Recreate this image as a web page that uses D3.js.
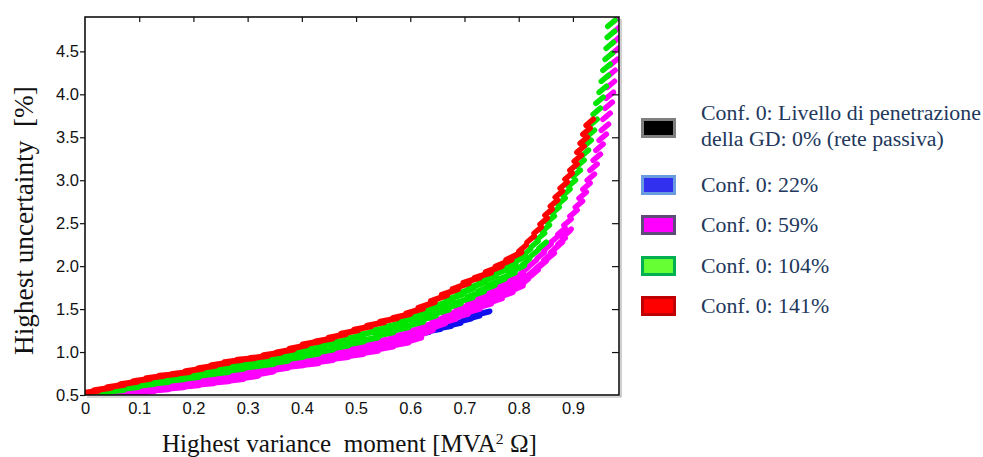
<!DOCTYPE html>
<html>
<head>
<meta charset="utf-8">
<script src="https://cdn.jsdelivr.net/npm/d3@7"></script>
<style>
  html, body { margin: 0; padding: 0; background: #fff; }
  svg { display: block; }
  .title { white-space: pre; }
</style>
</head>
<body>
<svg id="chart" width="983" height="457"></svg>
<script>
// ---- axis ticks ----
const xTicks = [0, 0.1, 0.2, 0.3, 0.4, 0.5, 0.6, 0.7, 0.8, 0.9];
const xTickLabels = ["0", "0.1", "0.2", "0.3", "0.4", "0.5", "0.6", "0.7", "0.8", "0.9"];
const yTicks = [0.5, 1.0, 1.5, 2.0, 2.5, 3.0, 3.5, 4.0, 4.5];
const yTickLabels = ["0.5", "1.0", "1.5", "2.0", "2.5", "3.0", "3.5", "4.0", "4.5"];

// ---- legend ----
const legendLabels = [
  ["Conf. 0: Livello di penetrazione", "della GD: 0% (rete passiva)"],
  ["Conf. 0: 22%"],
  ["Conf. 0: 59%"],
  ["Conf. 0: 104%"],
  ["Conf. 0: 141%"]
];

// ---- series: each is a set of tracks of [moment, uncertainty] points ----
const conf0Passive = [
  [[0.002,0.500],[0.028,0.523],[0.055,0.547],[0.083,0.570],[0.111,0.593],[0.138,0.616],[0.166,0.640],
   [0.194,0.663],[0.221,0.686],[0.249,0.709],[0.276,0.733],[0.304,0.767],[0.332,0.802],[0.359,0.837],
   [0.387,0.872],[0.415,0.907],[0.442,0.942],[0.470,0.977],[0.498,1.023],[0.525,1.070],[0.553,1.116],[0.581,1.163]]
];

const conf0p22 = [
  [[0.002,0.512],[0.024,0.523],[0.046,0.547],[0.068,0.570],[0.090,0.593],[0.112,0.605],[0.135,0.628],
   [0.157,0.651],[0.179,0.674],[0.201,0.698],[0.223,0.721],[0.245,0.744],[0.267,0.767],[0.289,0.791],
   [0.312,0.826],[0.334,0.849],[0.356,0.884],[0.378,0.907],[0.400,0.942],[0.422,0.965],[0.444,0.988],
   [0.466,1.012],[0.488,1.035],[0.511,1.058],[0.533,1.081],[0.555,1.105],[0.577,1.140],[0.599,1.174],
   [0.619,1.209],[0.640,1.244],[0.660,1.279],[0.678,1.314],[0.697,1.360],[0.713,1.395],[0.730,1.442],[0.747,1.477]]
];

const conf0p59 = [
  // lower edge
  [[0.083,0.512],[0.111,0.535],[0.138,0.558],[0.166,0.581],[0.194,0.605],[0.221,0.628],[0.249,0.651],
   [0.276,0.674],[0.304,0.709],[0.332,0.756],[0.359,0.802],[0.387,0.837],[0.415,0.860],[0.442,0.895],
   [0.470,0.930],[0.498,0.965],[0.525,1.000],[0.553,1.047],[0.581,1.093],[0.605,1.140],[0.627,1.221],
   [0.649,1.302],[0.669,1.360],[0.691,1.419],[0.713,1.477],[0.734,1.535],[0.754,1.593],[0.774,1.663],
   [0.793,1.733],[0.811,1.814],[0.829,1.919],[0.844,2.023],[0.859,2.116],[0.874,2.244],[0.887,2.372]],
  // middle
  [[0.046,0.512],[0.074,0.535],[0.101,0.558],[0.129,0.581],[0.157,0.605],[0.184,0.628],[0.212,0.651],
   [0.240,0.674],[0.267,0.698],[0.295,0.733],[0.323,0.767],[0.350,0.802],[0.378,0.837],[0.406,0.872],
   [0.433,0.907],[0.461,0.953],[0.488,0.988],[0.516,1.035],[0.544,1.081],[0.571,1.140],[0.599,1.186],
   [0.623,1.244],[0.647,1.314],[0.669,1.372],[0.691,1.442],[0.713,1.512],[0.734,1.570],[0.754,1.640],
   [0.772,1.709],[0.791,1.779],[0.807,1.849],[0.824,1.930],[0.839,2.012],[0.853,2.105],[0.866,2.198],
   [0.879,2.291],[0.890,2.395]],
  // upper
  [[0.028,0.512],[0.055,0.535],[0.083,0.558],[0.111,0.581],[0.138,0.605],[0.166,0.640],[0.194,0.663],
   [0.221,0.686],[0.249,0.721],[0.276,0.744],[0.304,0.779],[0.332,0.814],[0.359,0.849],[0.387,0.884],
   [0.415,0.919],[0.442,0.953],[0.470,1.000],[0.498,1.047],[0.525,1.093],[0.553,1.140],[0.581,1.198],
   [0.608,1.256],[0.632,1.314],[0.656,1.384],[0.678,1.453],[0.700,1.523],[0.721,1.593],[0.741,1.663],
   [0.759,1.733],[0.778,1.802],[0.794,1.872],[0.811,1.953],[0.826,2.035],[0.841,2.128],[0.853,2.221],
   [0.866,2.314],[0.879,2.407],[0.890,2.512],[0.901,2.616],[0.911,2.721],[0.918,2.826],[0.925,2.930],
   [0.933,3.035],[0.938,3.151],[0.944,3.267],[0.949,3.384],[0.955,3.500],[0.959,3.616],[0.962,3.744],
   [0.966,3.872],[0.968,3.988],[0.970,4.116],[0.971,4.244],[0.975,4.372],[0.977,4.500],[0.979,4.628],
   [0.981,4.756],[0.982,4.884]]
];

const conf0p104 = [
  [[0.028,0.523],[0.055,0.547],[0.083,0.581],[0.111,0.616],[0.138,0.640],[0.166,0.674],[0.194,0.698],
   [0.221,0.733],[0.249,0.756],[0.276,0.791],[0.304,0.826],[0.332,0.849],[0.359,0.884],[0.387,0.930],
   [0.415,0.965],[0.442,1.012],[0.470,1.058],[0.498,1.105],[0.525,1.151],[0.553,1.209],[0.581,1.267],
   [0.608,1.326],[0.632,1.395],[0.656,1.465],[0.678,1.535],[0.700,1.605],[0.721,1.674],[0.741,1.744],
   [0.759,1.814],[0.778,1.884],[0.796,1.965],[0.813,2.047],[0.829,2.151],[0.844,2.244]],
  [[0.018,0.535],[0.042,0.570],[0.066,0.593],[0.090,0.628],[0.114,0.663],[0.138,0.686],[0.162,0.709],
   [0.186,0.733],[0.210,0.767],[0.234,0.791],[0.258,0.826],[0.282,0.849],[0.306,0.884],[0.330,0.907],
   [0.354,0.942],[0.378,0.977],[0.402,1.012],[0.426,1.047],[0.450,1.093],[0.474,1.128],[0.498,1.174],
   [0.522,1.221],[0.546,1.267],[0.570,1.314],[0.594,1.372],[0.618,1.430],[0.640,1.500],[0.662,1.570],
   [0.682,1.640],[0.702,1.709],[0.723,1.779],[0.743,1.849],[0.761,1.919],[0.780,1.988],[0.798,2.070],
   [0.815,2.163],[0.829,2.256],[0.841,2.349],[0.850,2.442],[0.859,2.547],[0.868,2.651],[0.879,2.756],
   [0.888,2.860],[0.898,2.965],[0.907,3.081],[0.914,3.198],[0.922,3.314],[0.927,3.430],[0.933,3.547],
   [0.938,3.674],[0.944,3.802],[0.949,3.930],[0.955,4.058],[0.959,4.186],[0.962,4.314],[0.966,4.442],
   [0.968,4.570],[0.970,4.698],[0.971,4.826]]
];

const conf0p141 = [
  [[0.009,0.535],[0.033,0.570],[0.057,0.605],[0.081,0.640],[0.105,0.674],[0.129,0.709],[0.153,0.733],
   [0.177,0.756],[0.201,0.791],[0.225,0.826],[0.249,0.860],[0.273,0.895],[0.297,0.919],[0.321,0.942],
   [0.345,0.977],[0.369,1.012],[0.393,1.058],[0.417,1.105],[0.441,1.140],[0.465,1.186],[0.488,1.233],
   [0.512,1.279],[0.536,1.326],[0.560,1.372],[0.584,1.419],[0.608,1.477],[0.630,1.547],[0.653,1.628],
   [0.673,1.698],[0.693,1.767],[0.713,1.837],[0.734,1.895],[0.754,1.965],[0.772,2.035],[0.791,2.116],
   [0.807,2.209],[0.822,2.314],[0.835,2.419],[0.846,2.523],[0.855,2.628],[0.865,2.733],[0.874,2.837],
   [0.883,2.942],[0.892,3.047],[0.901,3.151],[0.909,3.256],[0.914,3.360],[0.920,3.465],[0.925,3.570],
   [0.931,3.674]]
];

// ---- layout ----
const plot = { left: 85, right: 619, top: 17, bottom: 395 };

const x = d3.scaleLinear().domain([0, 0.985]).range([plot.left, plot.right]);
const y = d3.scaleLinear().domain([0.5, 4.9]).range([plot.bottom, plot.top]);

const svg = d3.select("#chart");

svg.append("defs").append("clipPath").attr("id", "plotClip")
  .append("rect")
  .attr("x", plot.left).attr("y", plot.top)
  .attr("width", plot.right - plot.left).attr("height", plot.bottom - plot.top);

// ---- data marks: short slanted strokes, one per point ----
const series = [
  { tracks: conf0Passive, color: "#000000", width: 4 },
  { tracks: conf0p22,     color: "#1010ee", width: 5 },
  { tracks: conf0p59,     color: "#ff00ff", width: 6 },
  { tracks: conf0p104,    color: "#00e600", width: 6 },
  { tracks: conf0p141,    color: "#ff0000", width: 6 }
];

function strokeSegments(tracks) {
  const segs = [];
  tracks.forEach(track => {
    const pts = track.map(d => [x(d[0]), y(d[1])]);
    const last = pts.length - 1;
    pts.forEach((p, i) => {
      const a = pts[Math.max(0, i - 1)], b = pts[Math.min(last, i + 1)];
      const dx = b[0] - a[0], dy = a[1] - b[1];
      const s = dx > 0 ? dy / dx : 1;
      const steep = s > 0.8;
      // strokes lean a little flatter than the curve, giving the stepped texture
      const tilt = steep ? 0.85 : Math.max(s * 0.65, 0.03);
      const ang = Math.atan(tilt);
      const half = steep ? 4.8 : 8.5;
      const cx = Math.cos(ang) * half, cy = Math.sin(ang) * half;
      // the final stroke of a track stops at its last point
      const shift = (i === last && !steep) ? 1 : 0;
      const px = p[0] - cx * shift, py = p[1] + cy * shift;
      segs.push({ x1: px - cx, y1: py + cy, x2: px + cx, y2: py - cy, steep });
    });
  });
  return segs;
}

const marks = svg.append("g").attr("clip-path", "url(#plotClip)");
series.forEach(s => {
  marks.append("g")
    .attr("stroke", s.color)
    .attr("stroke-linecap", "round")
    .selectAll("line")
    .data(strokeSegments(s.tracks))
    .join("line")
    .attr("stroke-width", d => d.steep ? Math.min(s.width, 5.5) : s.width)
    .attr("x1", d => d.x1).attr("y1", d => d.y1)
    .attr("x2", d => d.x2).attr("y2", d => d.y2);
});

// ---- frame with a light shadow on the right and bottom ----
svg.append("path")
  .attr("d", `M${plot.right + 2},${plot.top + 2}V${plot.bottom + 2}H${plot.left + 2}`)
  .attr("fill", "none").attr("stroke", "#b0b0b0").attr("stroke-width", 1.2);
svg.append("rect")
  .attr("x", plot.left).attr("y", plot.top)
  .attr("width", plot.right - plot.left).attr("height", plot.bottom - plot.top)
  .attr("fill", "none").attr("stroke", "#111").attr("stroke-width", 1.6);

// ---- axes ----
const tickFont = "'Liberation Sans', Arial, sans-serif";

const yAxis = svg.append("g")
  .attr("transform", `translate(${plot.left},0)`)
  .call(d3.axisLeft(y).tickValues(yTicks).tickSize(5).tickPadding(1)
        .tickFormat((d, i) => yTickLabels[i]));
yAxis.select(".domain").remove();
yAxis.selectAll("line").attr("stroke", "#111").attr("stroke-width", 1.2);
yAxis.selectAll("text").attr("fill", "#111").style("font-family", tickFont).style("font-size", "16.5px");

const xAxis = svg.append("g")
  .attr("transform", `translate(0,${plot.bottom})`)
  .call(d3.axisBottom(x).tickValues(xTicks).tickSize(0).tickPadding(7)
        .tickFormat((d, i) => xTickLabels[i]));
xAxis.select(".domain").remove();
xAxis.selectAll("text").attr("fill", "#111").style("font-family", tickFont).style("font-size", "16.5px");

const topAxis = svg.append("g")
  .attr("transform", `translate(0,${plot.top})`)
  .call(d3.axisTop(x).tickValues(xTicks.slice(1)).tickSize(-5).tickFormat(""));
topAxis.select(".domain").remove();
topAxis.selectAll("line").attr("stroke", "#111").attr("stroke-width", 1.2);

const rightAxis = svg.append("g")
  .attr("transform", `translate(${plot.right},0)`)
  .call(d3.axisRight(y).tickValues(yTicks.slice(1)).tickSize(-7).tickFormat(""));
rightAxis.select(".domain").remove();
rightAxis.selectAll("line").attr("stroke", "#111").attr("stroke-width", 1.2);

// ---- axis titles ----
const serif = "'Liberation Serif', 'Times New Roman', serif";

function fitWidth(sel, target) {
  const base = parseFloat(sel.style("font-size"));
  const w = sel.node().getComputedTextLength();
  sel.style("font-size", (base * target / w) + "px");
}

const xTitle = svg.append("text")
  .attr("class", "title")
  .attr("x", 162).attr("y", 452)
  .attr("fill", "#111")
  .style("font-family", serif).style("font-size", "24px");
xTitle.append("tspan").text("Highest variance  moment [MVA");
xTitle.append("tspan").attr("dy", -8).style("font-size", "0.62em").text("2");
xTitle.append("tspan").attr("dy", 8).text(" Ω]");
fitWidth(xTitle, 375);

const yTitle = svg.append("text")
  .attr("class", "title")
  .attr("transform", `translate(33,355) rotate(-90)`)
  .attr("fill", "#111")
  .style("font-family", serif).style("font-size", "24px")
  .text("Highest uncertainty  [%]");
fitWidth(yTitle, 269);

// ---- legend ----
const swatches = [
  { fill: "#000000", stroke: "#7f7f7f" },
  { fill: "#3030ee", stroke: "#6a9ae0" },
  { fill: "#ff00ff", stroke: "#604a7b" },
  { fill: "#66ff33", stroke: "#00b050" },
  { fill: "#ff0000", stroke: "#c00000" }
];
const legendRowY = [128, 185, 225, 266, 306];
const legendColor = "#22385c";

const legend = svg.append("g");
const probe = legend.append("text")
  .style("font-family", serif).style("font-size", "20px")
  .text(legendLabels[0][0]);
const legendFont = 20 * 280 / probe.node().getComputedTextLength();
probe.remove();

legendLabels.forEach((lines, i) => {
  const cy = legendRowY[i];
  legend.append("rect")
    .attr("x", 642.5).attr("y", cy - 8.5)
    .attr("width", 32).attr("height", 17)
    .attr("fill", swatches[i].fill)
    .attr("stroke", swatches[i].stroke).attr("stroke-width", 3);
  const t = legend.append("text")
    .attr("fill", legendColor)
    .style("font-family", serif).style("font-size", legendFont + "px");
  const lineH = 26;
  const first = cy + 7 - (lines.length - 1) * lineH / 2 - (lines.length > 1 ? 2 : 0);
  lines.forEach((ln, j) => {
    t.append("tspan").attr("x", 701).attr("y", first + j * lineH).text(ln);
  });
});
</script>
</body>
</html>
